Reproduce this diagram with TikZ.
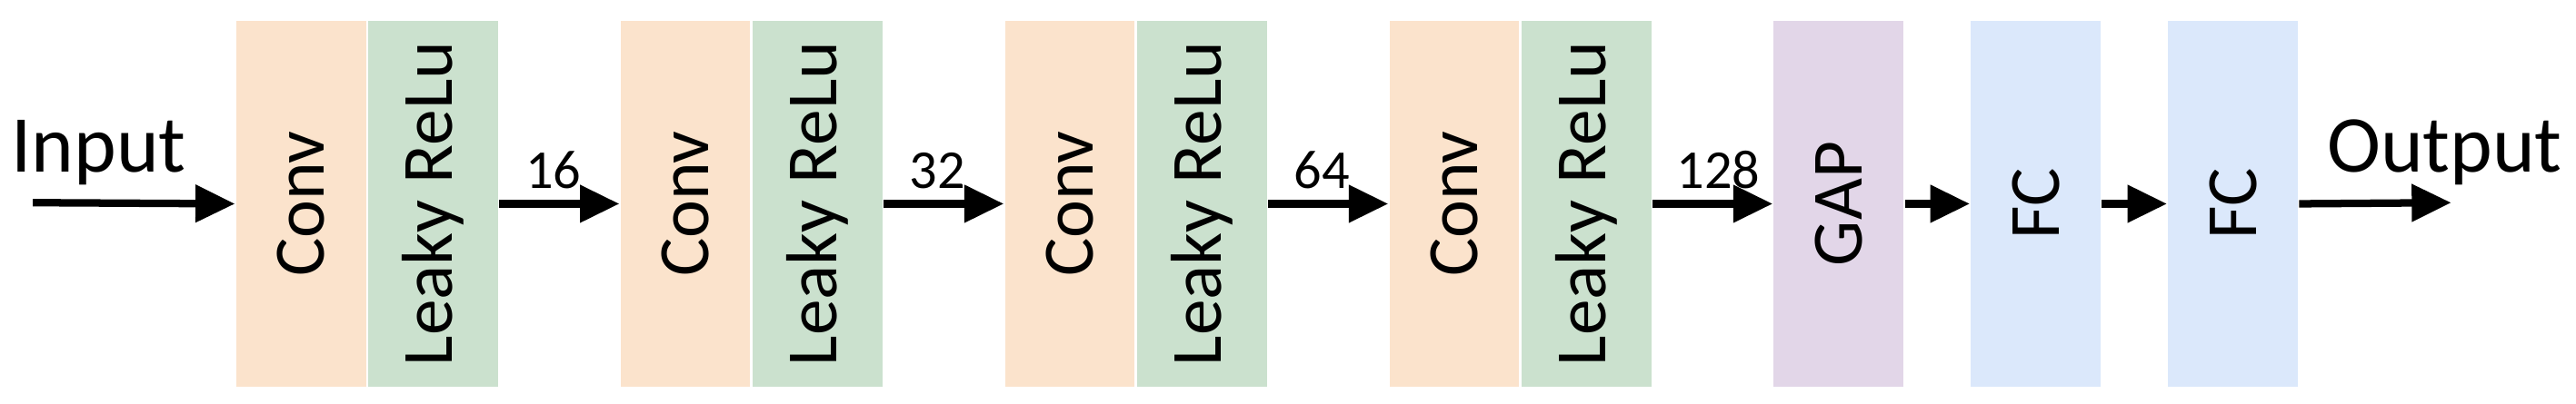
\documentclass[tikz,border=0pt]{standalone}
\usepackage{fontspec}
\setmainfont{Carlito}
\usetikzlibrary{positioning,arrows.meta}
\definecolor{convc}{HTML}{FBE3CC}
\definecolor{reluc}{HTML}{CBE1CE}
\definecolor{gapc}{HTML}{E2D6E8}
\definecolor{fcc}{HTML}{DBE8FB}
\tikzset{
  block/.style={minimum width=0.79cm, minimum height=2.23cm, inner sep=0pt,
    font=\fontsize{12.5}{14}\selectfont},
  conv/.style={block, fill=convc},
  relu/.style={block, fill=reluc},
  flow/.style={line width=1.3pt, -{Triangle[length=0.24cm,width=0.22cm]}},
  num/.style={font=\fontsize{9.5}{11}\selectfont, inner sep=1pt}
}
\begin{document}
\begin{tikzpicture}
  \useasboundingbox (0,0) rectangle (15.68,-2.46);

  % four conv + leaky relu pairs
  \foreach \i/\x in {1/1.43, 2/3.77, 3/6.11, 4/8.45} {
    \node[conv, anchor=north west] (conv\i) at (\x,-0.12) {\rotatebox{90}{Conv}};
    \node[relu, right=0pt of conv\i] (relu\i) {\rotatebox{90}{Leaky ReLu}};
  }
  \node[block, fill=gapc, anchor=north west] (gap) at (10.79,-0.12) {\rotatebox{90}{GAP}};
  \node[block, fill=fcc, anchor=north west] (fc1) at (11.99,-0.12) {\rotatebox{90}{FC}};
  \node[block, fill=fcc, anchor=north west] (fc2) at (13.19,-0.12) {\rotatebox{90}{FC}};

  \coordinate (in) at (0.2,-1.235);
  \coordinate (out) at (14.92,-1.235);
  \node[font=\fontsize{14}{16}\selectfont] (inlabel) at (0.6,-0.93) {Input};
  \node[font=\fontsize{14}{16}\selectfont] (outlabel) at (14.88,-0.93) {Output};

  \draw[flow] (in) -- (conv1.west);
  \draw[flow] (relu1.east) -- node[num, pos=0.45, above=1pt] {16} (conv2.west);
  \draw[flow] (relu2.east) -- node[num, pos=0.45, above=1pt] {32} (conv3.west);
  \draw[flow] (relu3.east) -- node[num, pos=0.45, above=1pt] {64} (conv4.west);
  \draw[flow] (relu4.east) -- node[num, pos=0.55, above=1pt] {128} (gap.west);
  \draw[flow] (gap) -- (fc1);
  \draw[flow] (fc1) -- (fc2);
  \draw[flow] (fc2.east) -- (out);
\end{tikzpicture}
\end{document}
